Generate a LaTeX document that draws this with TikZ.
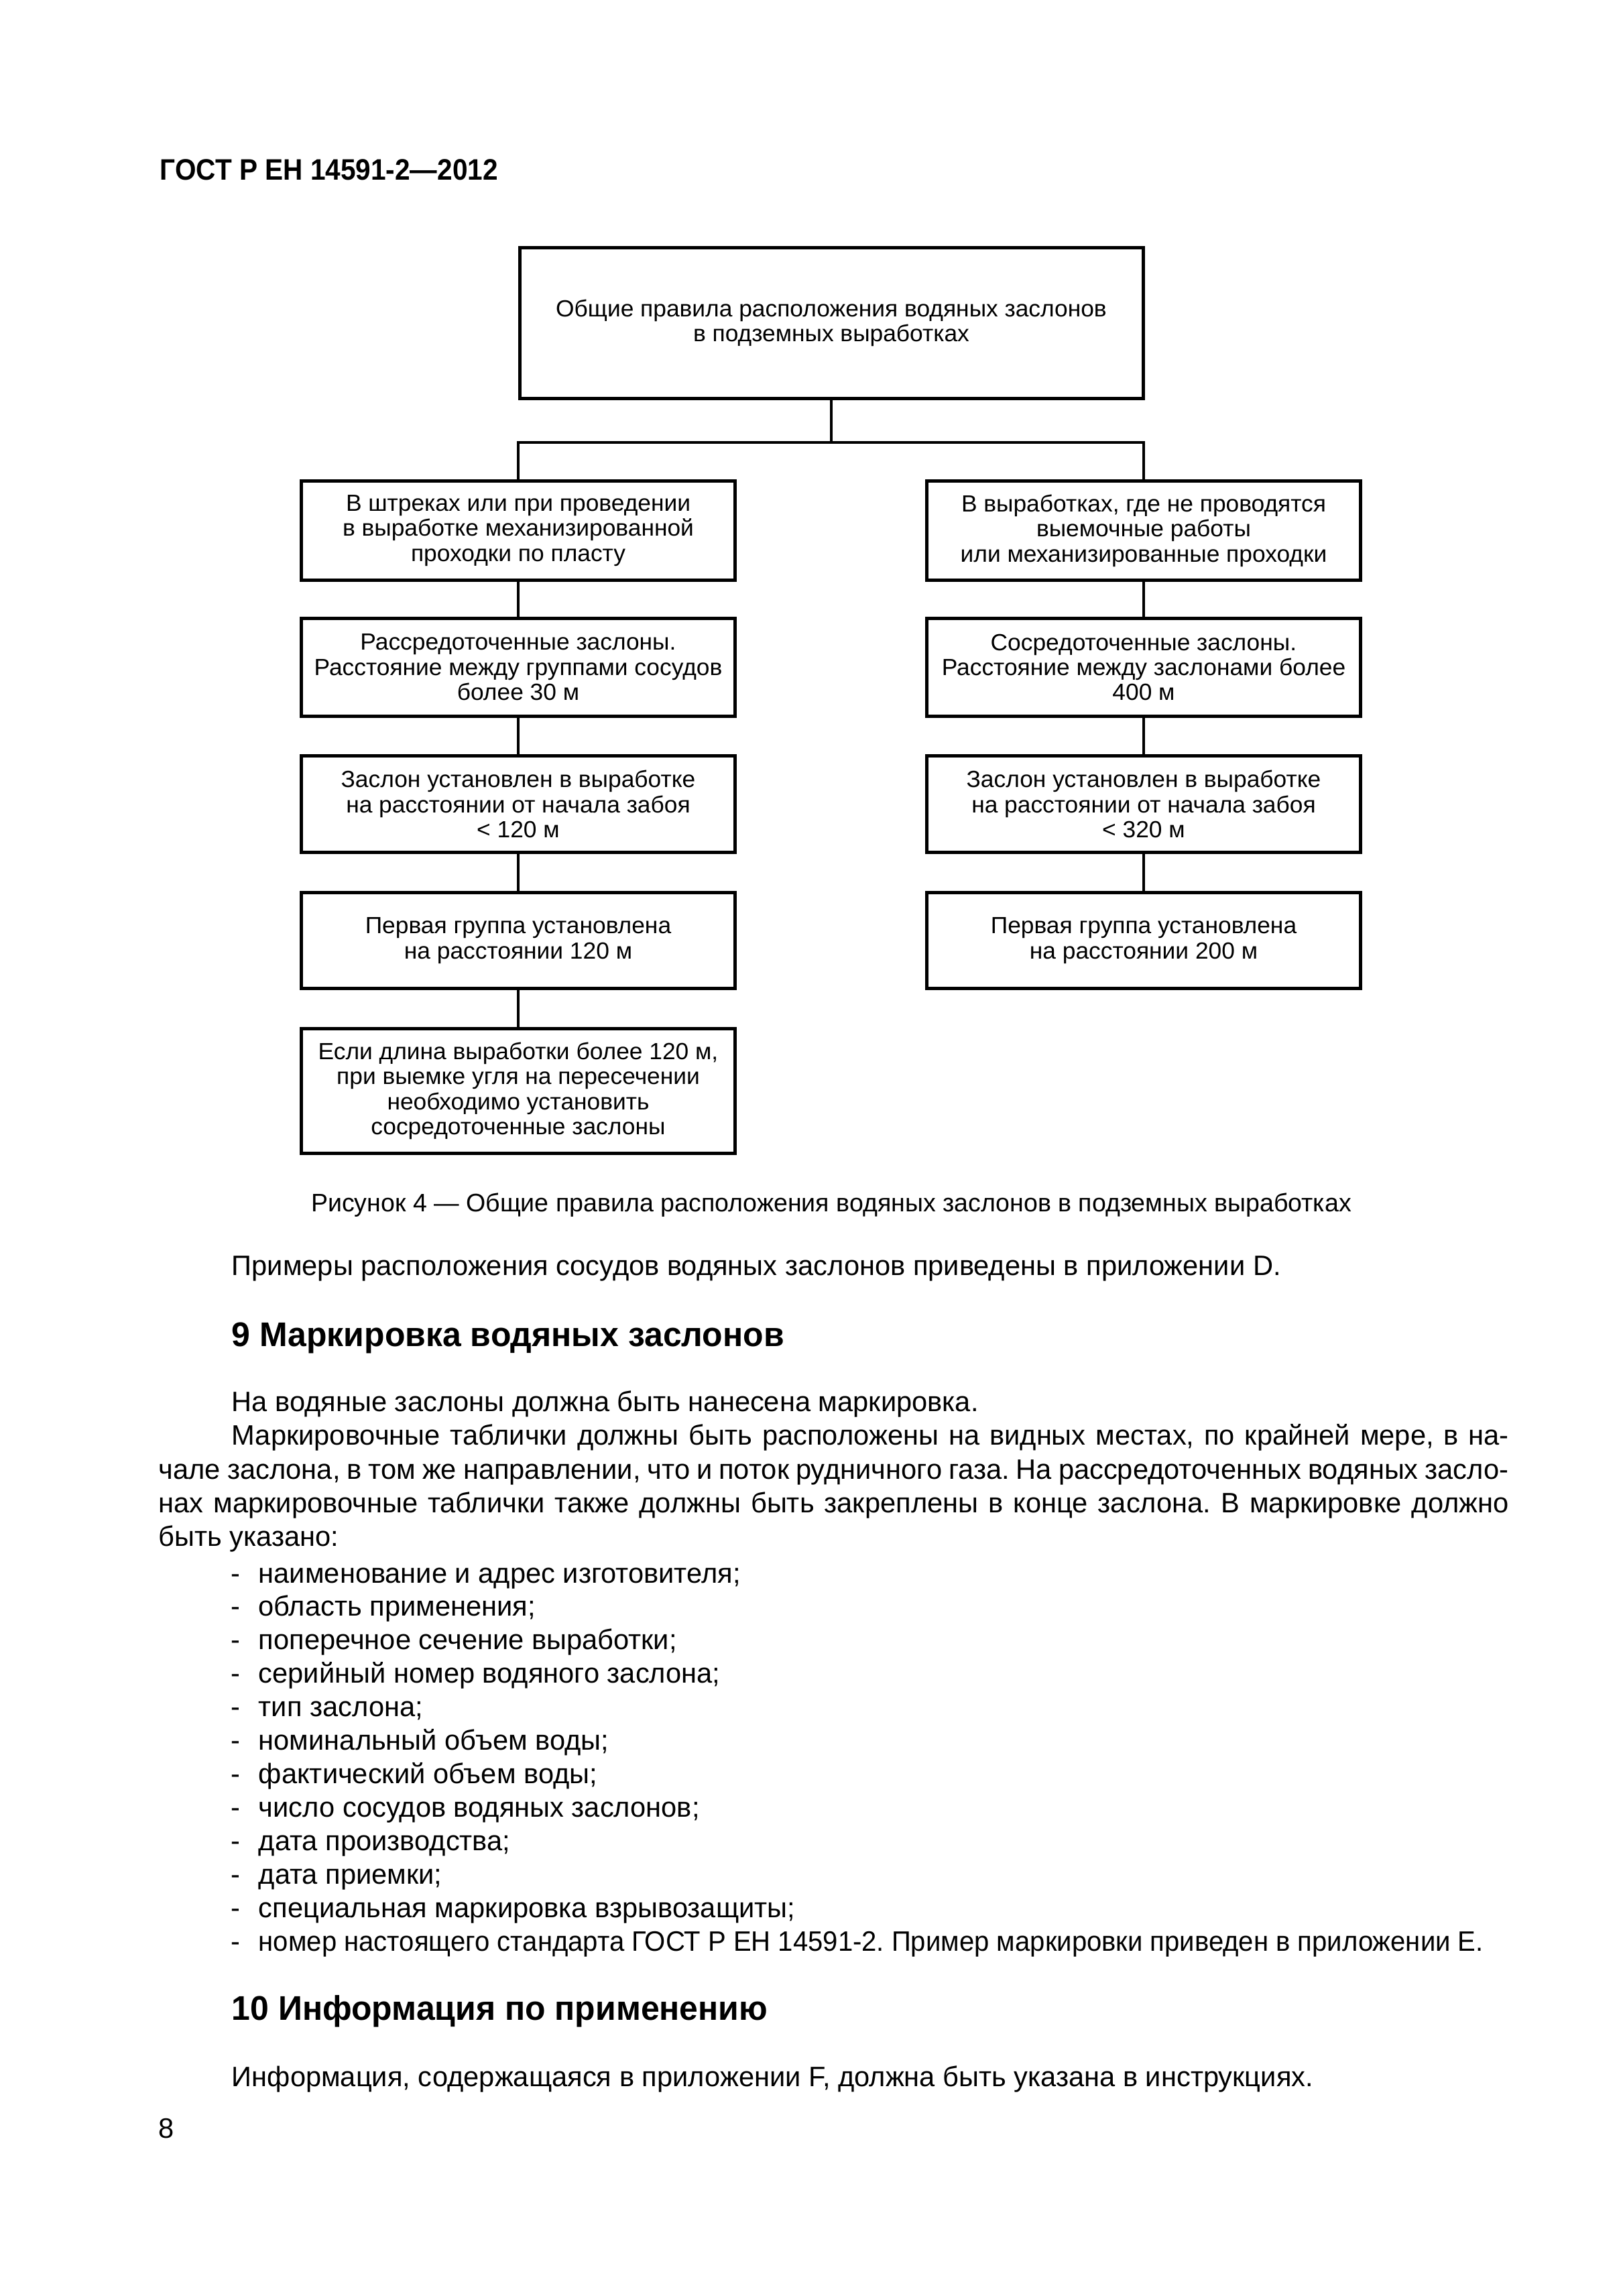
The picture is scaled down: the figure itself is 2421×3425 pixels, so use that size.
\documentclass[tikz,border=0pt]{standalone}
\usepackage{graphicx}
\usepackage{fontspec}
\newfontfamily\lib{Liberation Sans}
\newlength\pxl \setlength\pxl{0.2468pt}
\newlength\calw
\newcommand\mkratio[4]{%
  \setbox0=\hbox{#2#4}\setlength\calw{\wd0}%
  \pgfmathsetmacro#1{#3*0.2468/\calw}}
\mkratio\rbox{\lib\fontsize{8.6pt}{9.25pt}\selectfont}{514}{В штреках или при проведении}
\mkratio\rbody{\lib\fontsize{10.34pt}{12pt}\selectfont}{1565}{Примеры расположения сосудов водяных заслонов приведены в приложении D.}
\mkratio\rhead{\lib\bfseries\fontsize{12.6pt}{14pt}\selectfont}{824}{9 Маркировка водяных заслонов}
\mkratio\rhdr{\lib\bfseries\fontsize{10.9pt}{13pt}\selectfont}{504}{ГОСТ Р ЕН 14591-2—2012}
\mkratio\rcap{\lib\fontsize{10.34pt}{12pt}\selectfont}{1552}{Рисунок 4 — Общие правила расположения водяных заслонов в подземных выработках}
\pgfmathsetmacro\capsz{10.34*\rcap/\rbody}
\edef\tmp{\noexpand\newfontfamily\noexpand\boxf[FakeStretch=\rbox]{Liberation Sans}}\tmp
\edef\tmp{\noexpand\newfontfamily\noexpand\bodyf[FakeStretch=\rbody]{Liberation Sans}}\tmp
\edef\tmp{\noexpand\newfontfamily\noexpand\headf[FakeStretch=\rhead]{Liberation Sans}}\tmp
\edef\tmp{\noexpand\newfontfamily\noexpand\hdrf[FakeStretch=\rhdr]{Liberation Sans}}\tmp
\newcommand\jline[2]{\hbox to #1\pxl{\frenchspacing\spaceskip=0.278em plus 1fil minus 0.2em\relax #2}}
\begin{document}
\begin{tikzpicture}[x=0.2468pt, y=-0.2468pt,
  fbox/.style={draw, line width=1.234pt, align=center, inner sep=0pt,
    font=\boxf\fontsize{8.6pt}{9.25pt}\selectfont},
  colbox/.style={fbox, minimum width={647*0.2468pt}},
  conn/.style={draw, line width=0.99pt},
  body/.style={anchor=base west, inner sep=0pt, font=\bodyf\fontsize{10.34pt}{12pt}\selectfont\frenchspacing},
  headtxt/.style={anchor=base west, inner sep=0pt, font=\headf\bfseries\fontsize{12.6pt}{14pt}\selectfont}]
\fill[white] (0,0) rectangle (2421,3425);
\useasboundingbox (0,0) rectangle (2421,3425);

% page header
\node[anchor=base west, inner sep=0pt, font=\hdrf\bfseries\fontsize{10.9pt}{13pt}\selectfont] (hdr) at (238,268) {ГОСТ Р ЕН 14591-2—2012};

% diagram
\node[fbox, minimum width={930*0.2468pt}, minimum height={225*0.2468pt}] (top) at (1240,482)
  {Общие правила расположения водяных заслонов\\в подземных выработках};

\node[colbox, minimum height={148*0.2468pt}] (L1) at (773,791.5)
  {В штреках или при проведении\\в выработке механизированной\\проходки по пласту};
\node[colbox, minimum height={146*0.2468pt}] (L2) at (773,995.5)
  {Рассредоточенные заслоны.\\Расстояние между группами сосудов\\более 30 м};
\node[colbox, minimum height={144*0.2468pt}] (L3) at (773,1199.5)
  {Заслон установлен в выработке\\на расстоянии от начала забоя\\< 120 м};
\node[colbox, minimum height={143*0.2468pt}] (L4) at (773,1403)
  {Первая группа установлена\\на расстоянии 120 м};
\node[colbox, minimum height={186*0.2468pt}] (L5) at (773,1627.5)
  {Если длина выработки более 120 м,\\при выемке угля на пересечении\\необходимо установить\\сосредоточенные заслоны};

\node[colbox, minimum height={148*0.2468pt}] (R1) at (1706,791.5)
  {В выработках, где не проводятся\\выемочные работы\\или механизированные проходки};
\node[colbox, minimum height={146*0.2468pt}] (R2) at (1706,995.5)
  {Сосредоточенные заслоны.\\Расстояние между заслонами более\\400 м};
\node[colbox, minimum height={144*0.2468pt}] (R3) at (1706,1199.5)
  {Заслон установлен в выработке\\на расстоянии от начала забоя\\< 320 м};
\node[colbox, minimum height={143*0.2468pt}] (R4) at (1706,1403)
  {Первая группа установлена\\на расстоянии 200 м};

\coordinate (hub) at (1240,660);
\draw[conn] (top.south) -- (hub);
\draw[conn] (L1.north) |- (hub) -| (R1.north);
\draw[conn] (L1.south) -- (L2.north);
\draw[conn] (L2.south) -- (L3.north);
\draw[conn] (L3.south) -- (L4.north);
\draw[conn] (L4.south) -- (L5.north);
\draw[conn] (R1.south) -- (R2.north);
\draw[conn] (R2.south) -- (R3.north);
\draw[conn] (R3.south) -- (R4.north);

% caption
\node[anchor=base, inner sep=0pt, font=\bodyf\fontsize{\capsz pt}{12pt}\selectfont] (cap) at (1240,1807)
  {Рисунок 4 — Общие правила расположения водяных заслонов в подземных выработках};

% body text
\node[body] (p1) at (345,1902) {Примеры расположения сосудов водяных заслонов приведены в приложении D.};
\node[headtxt] (h9) at (345,2008) {9 Маркировка водяных заслонов};
\node[body] (t1) at (345,2105) {На водяные заслоны должна быть нанесена маркировка.};
\node[body] (t2) at (345,2155) {\jline{1905}{Маркировочные таблички должны быть расположены на видных местах, по крайней мере, в на-}};
\node[body] (t3) at (236,2206) {\jline{2014}{чале заслона, в том же направлении, что и поток рудничного газа. На рассредоточенных водяных засло-}};
\node[body] (t4) at (236,2256) {\jline{2014}{нах маркировочные таблички также должны быть закреплены в конце заслона. В маркировке должно}};
\node[body] (t5) at (236,2306) {быть указано:};

\foreach \i/\txt in {0/{наименование и адрес изготовителя;},
  1/{область применения;},
  2/{поперечное сечение выработки;},
  3/{серийный номер водяного заслона;},
  4/{тип заслона;},
  5/{номинальный объем воды;},
  6/{фактический объем воды;},
  7/{число сосудов водяных заслонов;},
  8/{дата производства;},
  9/{дата приемки;},
  10/{специальная маркировка взрывозащиты;}}{
  \node[body] (d\i) at (344,{2361+49.9*\i}) {-};
  \node[body] (li\i) at (385,{2361+49.9*\i}) {\txt};
}
\node[body] (d11) at (344,2910) {-};
\node[body] (li11) at (385,2910) {\resizebox{1827\pxl}{\height}{номер настоящего стандарта ГОСТ Р ЕН 14591-2. Пример маркировки приведен в приложении Е.}};

\node[headtxt] (h10) at (345,3013) {10 Информация по применению};
\node[body] (p10) at (345,3112) {Информация, содержащаяся в приложении F, должна быть указана в инструкциях.};
\node[body] (pg) at (236,3189) {8};
\end{tikzpicture}
\end{document}
